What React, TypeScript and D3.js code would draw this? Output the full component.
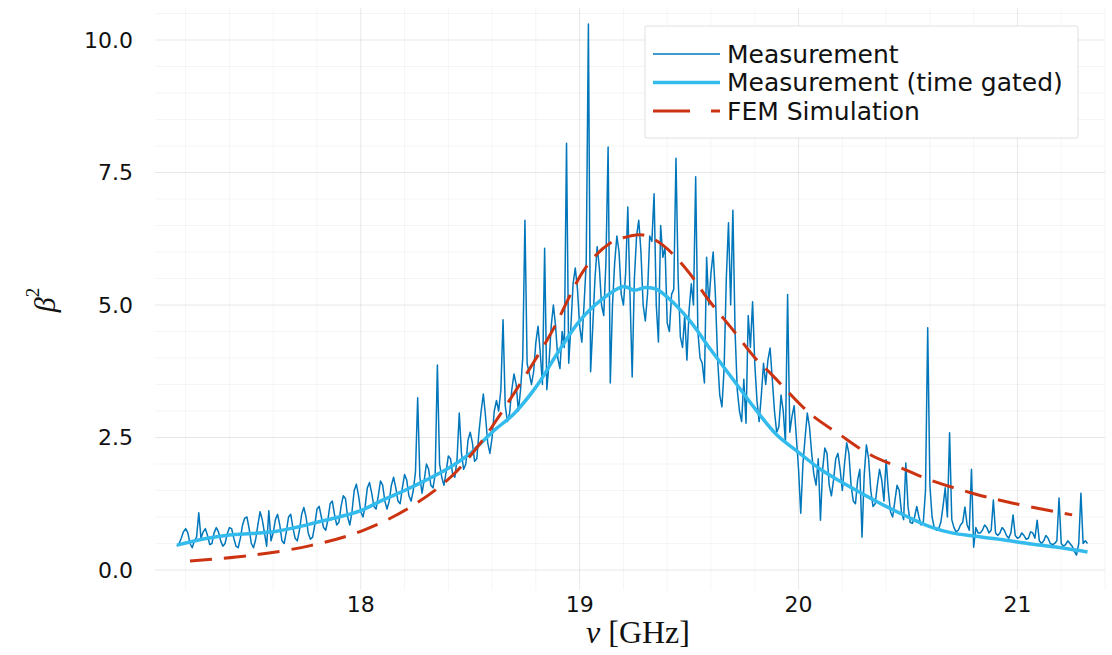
import React from "react";
import * as d3 from "d3";

// ---- data ----
const freqStart = 17.16; // GHz, first measurement sample
const freqStep = 0.01; // GHz, sweep resolution
const measurement: number[] = [
  0.45,0.50,0.60,0.72,0.78,0.70,0.50,0.42,0.55,0.62,1.08,0.60,0.72,0.78,0.65,0.48,0.50,0.70,0.80,0.72,
  0.55,0.45,0.50,0.68,0.80,0.78,0.60,0.45,0.42,0.60,0.85,0.98,1.00,0.78,0.50,0.42,0.58,0.85,1.10,0.95,
  0.70,0.45,1.12,0.55,0.70,0.95,1.05,0.85,0.55,0.50,0.72,1.00,1.05,0.80,0.60,0.55,0.75,1.05,1.18,1.00,
  0.70,0.58,0.62,0.85,1.15,1.20,1.00,0.80,0.75,0.95,1.25,1.30,1.05,0.85,0.90,1.20,1.40,1.35,1.00,0.85,
  1.10,1.50,1.62,1.40,1.10,1.00,1.20,1.55,1.65,1.45,1.20,1.15,1.40,1.68,1.60,1.30,1.15,1.30,1.60,1.75,
  1.55,1.30,1.25,1.55,1.80,1.70,1.40,1.30,1.50,1.85,3.25,1.75,1.45,1.70,2.00,1.90,1.60,1.55,1.80,3.87,
  2.00,1.75,1.60,1.85,2.15,2.10,1.80,1.75,2.10,2.96,2.20,1.90,2.00,2.45,2.60,2.40,2.05,2.10,2.60,3.00,
  3.32,2.90,2.40,2.20,2.50,3.00,3.20,3.00,3.40,4.72,3.10,2.80,2.96,3.40,3.70,3.50,3.00,3.40,4.00,6.60,
  3.90,3.70,3.50,3.75,4.30,4.60,4.10,3.50,6.07,3.40,3.90,4.60,5.00,4.60,4.00,3.80,4.50,4.20,8.05,3.90,
  4.60,5.40,5.70,5.30,4.60,4.30,5.00,5.80,10.30,3.74,4.60,5.50,6.10,5.70,5.00,4.80,5.80,7.98,3.53,5.00,
  5.80,6.30,6.00,5.20,5.00,5.60,6.85,5.20,3.64,5.50,6.30,6.60,6.00,5.00,4.70,5.20,6.30,6.20,7.10,5.00,
  4.30,6.50,5.90,6.10,4.66,4.50,5.20,5.30,7.77,5.50,4.40,4.20,4.80,3.96,4.90,5.40,5.00,7.42,4.50,4.00,
  3.90,3.53,5.90,5.00,5.60,6.00,5.20,4.00,3.30,3.08,3.80,5.50,6.55,5.00,6.79,4.50,3.40,3.00,2.80,3.60,
  2.77,4.80,4.20,5.06,3.90,3.20,2.80,3.30,3.90,3.50,3.96,4.19,3.60,3.00,2.60,2.70,3.30,3.00,2.40,5.20,
  2.60,2.90,3.10,2.50,1.90,1.07,2.00,2.50,2.96,2.70,2.20,1.80,1.60,2.10,0.94,1.90,2.30,2.20,1.60,1.40,
  1.70,2.10,2.20,1.90,1.50,2.00,2.40,2.20,1.60,1.30,1.25,1.70,1.90,0.62,1.80,2.36,2.10,1.50,1.20,1.25,
  1.60,1.90,1.70,1.30,2.08,1.50,1.10,1.00,1.30,1.60,1.50,1.10,0.95,2.02,1.20,0.90,0.88,1.00,1.20,1.00,
  0.85,0.90,1.50,4.57,1.60,1.00,0.80,0.75,0.78,0.90,1.20,1.55,1.00,2.59,0.95,0.80,0.72,0.75,0.85,0.90,
  1.19,0.85,0.75,1.90,0.43,0.80,0.70,0.70,0.75,0.85,0.80,0.70,0.75,1.32,0.70,0.65,0.70,0.80,0.75,0.65,
  0.60,0.70,1.04,0.65,0.60,0.62,0.70,0.65,0.58,0.60,0.72,0.70,0.60,0.94,0.55,0.50,0.55,0.65,0.60,0.50,
  0.48,0.50,0.55,1.36,0.50,0.45,0.48,0.55,0.50,0.45,0.35,0.28,0.50,1.45,0.50,0.55,0.50,
];

const gatedFreq = [17.16,17.3,17.4,17.5,17.6,17.7,17.8,17.9,18.0,18.1,18.2,18.3,18.4,18.5,18.6,18.7,18.8,18.9,19.0,19.1,19.2,19.25,19.3,19.35,19.4,19.5,19.6,19.7,19.8,19.9,20.0,20.1,20.2,20.3,20.4,20.5,20.6,20.7,20.8,20.9,21.0,21.1,21.2,21.32];
const gatedValue = [0.47,0.6,0.66,0.69,0.72,0.8,0.9,1.0,1.12,1.32,1.5,1.7,1.92,2.2,2.6,2.95,3.45,4.1,4.7,5.1,5.35,5.28,5.33,5.3,5.15,4.72,4.15,3.6,3.05,2.55,2.22,1.9,1.65,1.42,1.2,1.0,0.82,0.7,0.64,0.59,0.53,0.47,0.42,0.34];

const femFreq = [17.22,17.49,17.77,18.0,18.22,18.41,18.54,18.63,18.86,19.03,19.14,19.23,19.29,19.38,19.49,19.59,19.70,19.81,19.87,20.05,20.19,20.33,20.49,20.60,20.81,20.98,21.25];
const femValue = [0.17,0.27,0.46,0.73,1.17,1.75,2.36,2.89,4.4,5.72,6.17,6.3,6.32,6.13,5.66,5.09,4.53,3.96,3.72,2.96,2.55,2.17,1.89,1.70,1.43,1.26,1.04];

const xTicks = [18, 19, 20, 21];
const yTicks = [0, 2.5, 5, 7.5, 10];
const legendLabels = ["Measurement", "Measurement (time gated)", "FEM Simulation"];

const COLORS = ["#0077BB", "#33BBEE", "#CC3311"];

export default function App() {
  const W = 1112, H = 655;
  const left = 155, right = 1105, top = 8, bottom = 590;
  const x = d3.scaleLinear().domain([17.06, 21.4]).range([left, right]);
  const y = d3.scaleLinear().domain([0, 10]).range([570, 40]);

  const measPts: [number, number][] = measurement.map((v, i) => [freqStart + i * freqStep, v]);
  const gatedPts: [number, number][] = gatedFreq.map((f, i) => [f, gatedValue[i]]);
  const femPts: [number, number][] = femFreq.map((f, i) => [f, femValue[i]]);

  const lin = d3.line<[number, number]>().x(d => x(d[0])).y(d => y(d[1]));
  const smooth = d3.line<[number, number]>().x(d => x(d[0])).y(d => y(d[1])).curve(d3.curveCatmullRom.alpha(0.5));

  const xMinor = d3.range(17.2, 21.41, 0.2).filter(v => Math.abs(v - Math.round(v)) > 1e-6);
  const yMinor = d3.range(0, 10.6, 0.5).filter(v => Math.abs(v / 2.5 - Math.round(v / 2.5)) > 1e-6);

  const sans = "'DejaVu Sans', sans-serif";
  const serif = "'Liberation Serif', 'DejaVu Serif', serif";

  return (
    <svg width={W} height={H} style={{ position: "absolute", left: 0, top: 0, background: "#fff" }}>
      <defs>
        <clipPath id="plotclip">
          <rect x={left} y={top} width={right - left} height={bottom - top} />
        </clipPath>
      </defs>
      {/* minor grid */}
      <g stroke="#000" strokeOpacity={0.04} strokeWidth={1}>
        {xMinor.map(v => <line key={"xm" + v} x1={x(v)} x2={x(v)} y1={top} y2={bottom} />)}
        {yMinor.map(v => <line key={"ym" + v} x1={left} x2={right} y1={y(v)} y2={y(v)} />)}
      </g>
      {/* major grid */}
      <g stroke="#000" strokeOpacity={0.09} strokeWidth={1}>
        {xTicks.map(v => <line key={"xg" + v} x1={x(v)} x2={x(v)} y1={top} y2={bottom} />)}
        {yTicks.map(v => <line key={"yg" + v} x1={left} x2={right} y1={y(v)} y2={y(v)} />)}
      </g>
      {/* series */}
      <g clipPath="url(#plotclip)" fill="none">
        <path d={lin(measPts) || ""} stroke={COLORS[0]} strokeWidth={1.5} strokeLinejoin="round" />
        <path d={smooth(gatedPts) || ""} stroke={COLORS[1]} strokeWidth={3.5} strokeLinejoin="round" />
        <path d={smooth(femPts) || ""} stroke={COLORS[2]} strokeWidth={3} strokeDasharray="22 12" />
      </g>
      {/* tick labels */}
      <g fontFamily={sans} fontSize={22} fill="#111">
        {yTicks.map(v => (
          <text key={"yt" + v} x={133} y={y(v)} textAnchor="end" dominantBaseline="central">{v.toFixed(1)}</text>
        ))}
        {xTicks.map(v => (
          <text key={"xt" + v} x={x(v)} y={604} textAnchor="middle" dominantBaseline="central">{v}</text>
        ))}
      </g>
      {/* axis labels */}
      <text x={638} y={632} textAnchor="middle" dominantBaseline="central" fontFamily={serif} fontSize={32} fill="#111">
        <tspan fontStyle="italic">ν</tspan> [GHz]
      </text>
      <text transform="translate(44,300) rotate(-90)" textAnchor="middle" dominantBaseline="central" fontFamily={serif} fontSize={30} fill="#111">
        <tspan fontStyle="italic">β</tspan><tspan fontSize={19} dy={-12}>2</tspan>
      </text>
      {/* legend */}
      <g>
        <rect x={645} y={26} width={433} height={112} fill="#fff" stroke="#000" strokeOpacity={0.12} strokeWidth={1} rx={2} />
        {legendLabels.map((lab, i) => {
          const ly = 54 + i * 28.5;
          return (
            <g key={lab}>
              <line x1={653} x2={720} y1={ly} y2={ly} stroke={COLORS[i]}
                strokeWidth={i === 0 ? 1.6 : i === 1 ? 3.5 : 3}
                strokeDasharray={i === 2 ? "37 21" : undefined} />
              <text x={727} y={ly} dominantBaseline="central" fontFamily={sans} fontSize={25} fill="#111">{lab}</text>
            </g>
          );
        })}
      </g>
    </svg>
  );
}
